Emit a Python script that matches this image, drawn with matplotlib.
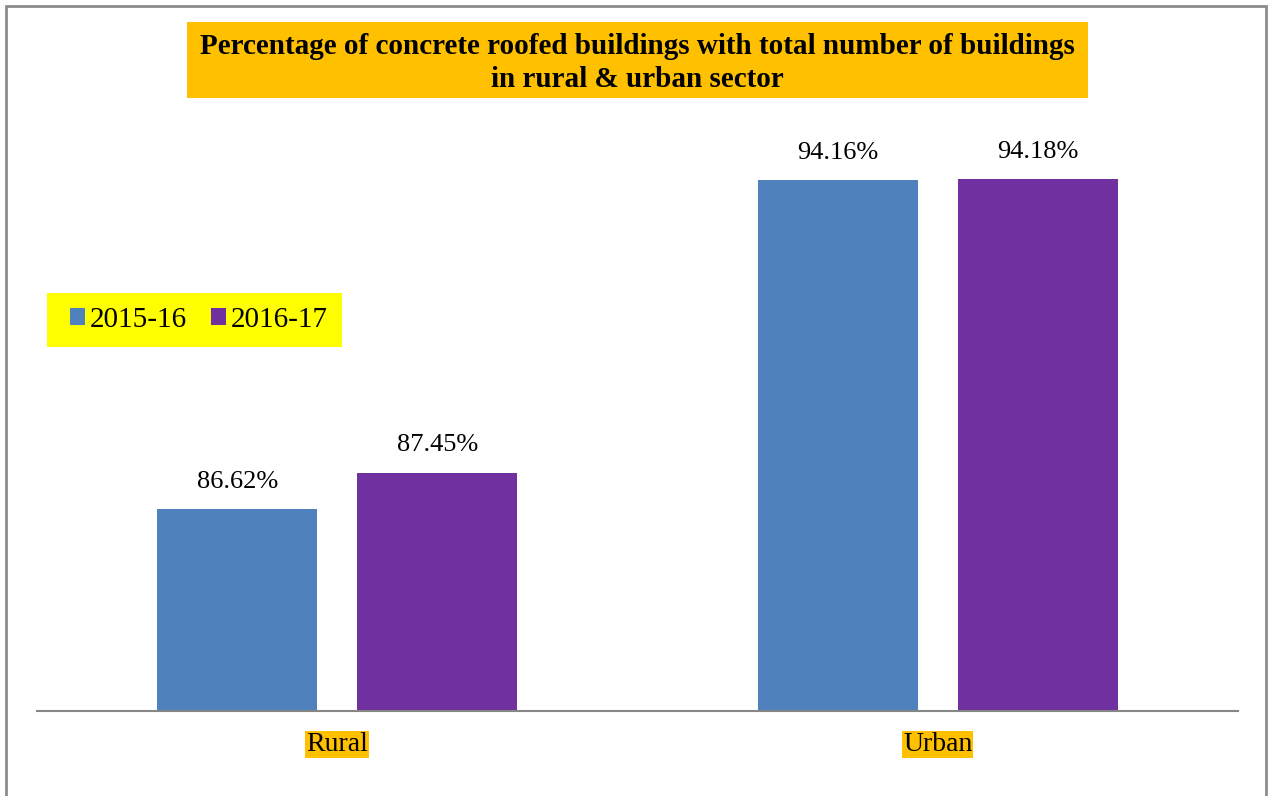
import matplotlib.pyplot as plt
import matplotlib.patches as mpatches
import numpy as np

plt.rcParams['font.family'] = ['Liberation Serif', 'DejaVu Serif']

# ===== data =====
sectors = ["Rural", "Urban"]
years = ["2015-16", "2016-17"]
vals_1516 = [86.62, 94.16]
vals_1617 = [87.45, 94.18]

blue = '#4F81BD'
purple = '#7030A0'
orange = '#FFC000'
yellow = '#FFFF00'
grey = '#868686'

W, H = 1272, 796
fig = plt.figure(figsize=(W / 100, H / 100), dpi=100)
ax = fig.add_axes([37 / W, (H - 711) / H, (1238 - 37) / W, (711 - 100) / H])

x = np.arange(len(sectors))
bw = 0.2667
off = 0.1667
b1 = ax.bar(x - off, vals_1516, width=bw, color=blue, label=years[0])
b2 = ax.bar(x + off, vals_1617, width=bw, color=purple, label=years[1])

for bars in (b1, b2):
    ax.bar_label(bars, labels=[f"{v:.2f}%" for v in bars.datavalues],
                 padding=12, fontsize=19)

ax.set_xlim(-0.5, 1.5)
ax.set_ylim(82.0, 96.0)
ax.set_yticks([])
for s in ['top', 'right', 'left']:
    ax.spines[s].set_visible(False)
ax.spines['bottom'].set_color(grey)
ax.spines['bottom'].set_linewidth(1.5)

ax.set_xticks(x)
ax.set_xticklabels(sectors, fontsize=20)
ax.tick_params(axis='x', length=0, pad=15)
for lab in ax.get_xticklabels():
    lab.set_bbox(dict(facecolor=orange, edgecolor='none', pad=0.5))

# outer frame
fig.patches.append(mpatches.Rectangle((6 / W, -0.05), 1260 / W, 1 - 6 / H + 0.05,
                                      transform=fig.transFigure, fill=False,
                                      edgecolor='#8c8c8c', linewidth=2))

# title box
fig.patches.append(mpatches.Rectangle((187 / W, 1 - 98 / H), 901 / W, 76 / H,
                                      transform=fig.transFigure, facecolor=orange,
                                      edgecolor='none'))
fig.text(637 / W, 1 - 63 / H,
         "Percentage of concrete roofed buildings with total number of buildings\nin rural & urban sector",
         ha='center', va='center', fontsize=21, fontweight='bold', linespacing=1.28)

# legend on a yellow box
fig.patches.append(mpatches.Rectangle((47 / W, 1 - 347 / H), 295 / W, 54 / H,
                                      transform=fig.transFigure, facecolor=yellow,
                                      edgecolor='none'))
leg = fig.legend(loc='center left', bbox_to_anchor=(70 / W, 1 - 320 / H), ncol=2,
                 fontsize=21, frameon=False, handlelength=0.52,
                 handleheight=0.52, handletextpad=0.17, columnspacing=0.8,
                 borderpad=0, borderaxespad=0)

fig.savefig("out.png", dpi=100)
